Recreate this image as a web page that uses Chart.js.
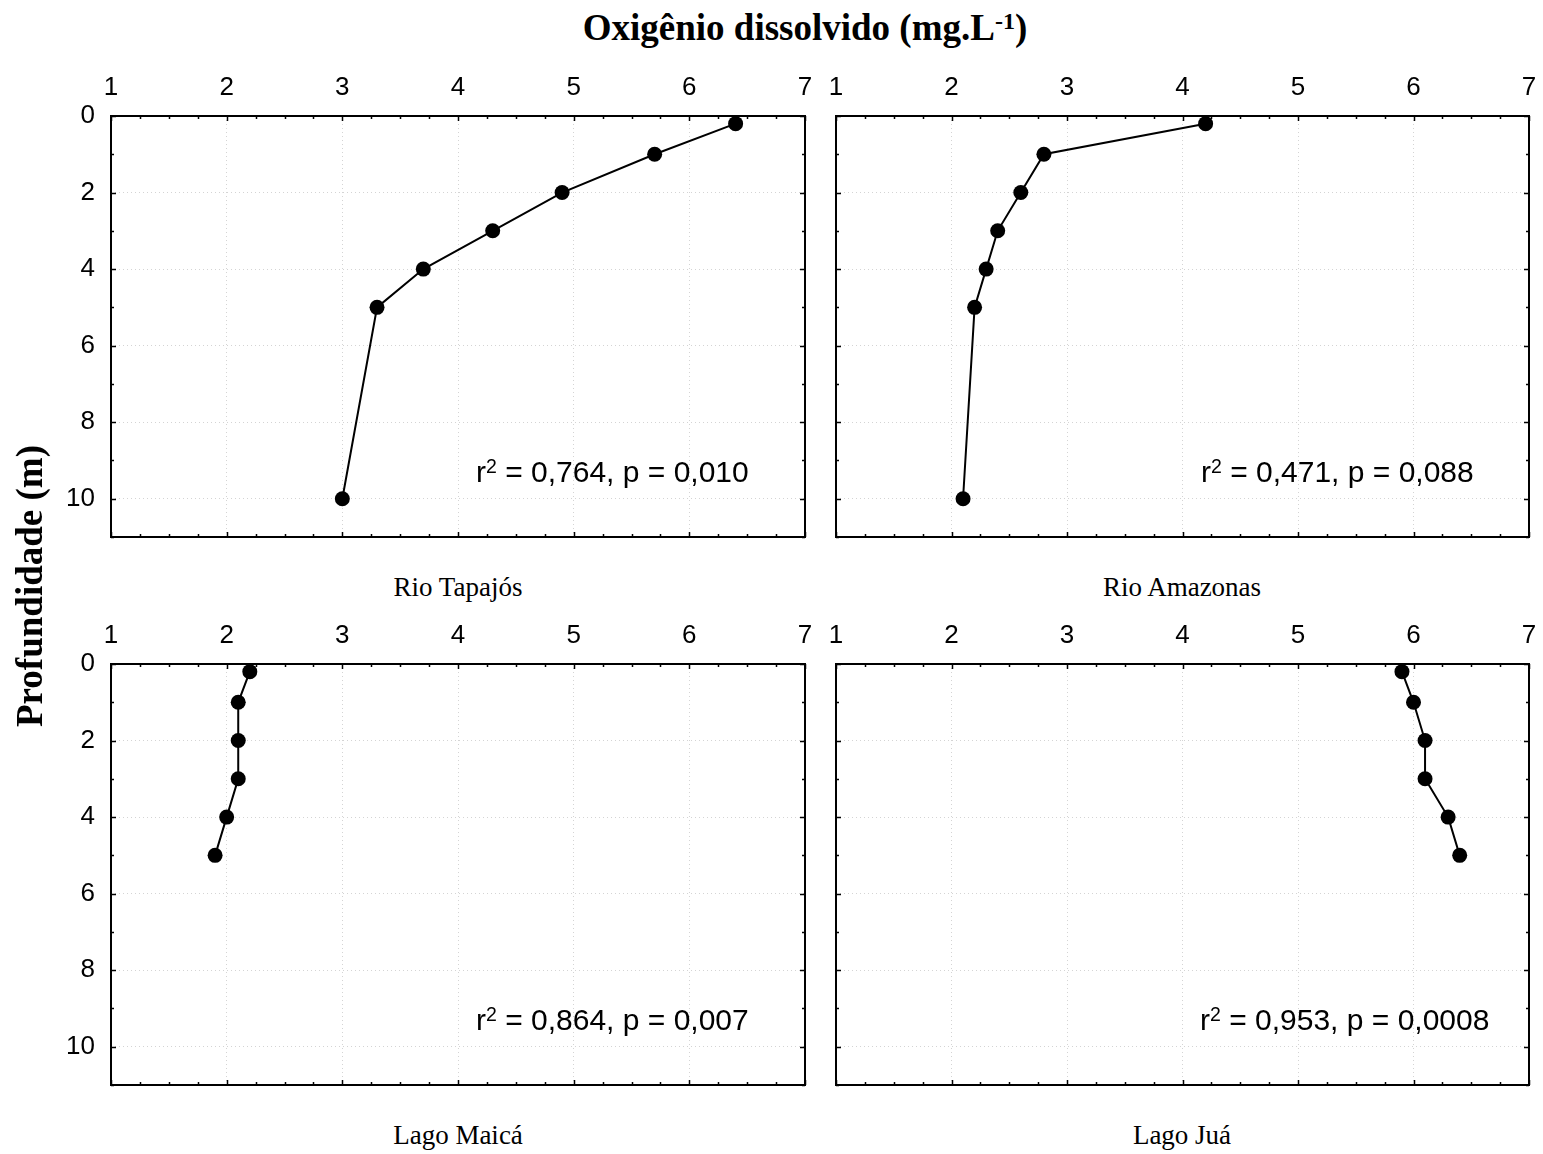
<!DOCTYPE html>
<html>
<head>
<meta charset="utf-8">
<title>Oxigênio dissolvido</title>
<script src="https://cdn.jsdelivr.net/npm/chart.js@4.4.1/dist/chart.umd.min.js"></script>
<style>
  body { margin: 0; background: #fff; }
  #fig { position: relative; width: 1543px; height: 1154px; overflow: hidden; }
  canvas { position: absolute; }
  .serif { position: absolute; font-family: "Liberation Serif", "Times New Roman", serif; color: #000; white-space: nowrap; }
  .title { font-weight: bold; font-size: 37px; line-height: 40px; }
  .name { font-size: 27px; line-height: 28px; transform: translateX(-50%); }
  .stat { position: absolute; font-family: "Liberation Sans", Arial, sans-serif; font-size: 30px; line-height: 30px; white-space: nowrap; color: #000; }
  .stat span, .title span { position: relative; top: -0.45em; font-size: 0.65em; }
</style>
</head>
<body>
<div id="fig">
  <canvas id="c0" width="770" height="490" style="left:50px;top:60px"></canvas>
  <canvas id="c1" width="768" height="490" style="left:775px;top:60px"></canvas>
  <canvas id="c2" width="770" height="490" style="left:50px;top:608px"></canvas>
  <canvas id="c3" width="768" height="490" style="left:775px;top:608px"></canvas>

  <div class="serif title" style="left:805px;top:8px;transform:translateX(-50%)">Oxigênio dissolvido (mg.L<span>-1</span>)</div>
  <div class="serif title" style="left:30px;top:586px;transform:translate(-50%,-50%) rotate(-90deg)">Profundidade (m)</div>

  <div class="serif name" style="left:458px;top:573px">Rio Tapajós</div>
  <div class="serif name" style="left:1182px;top:573px">Rio Amazonas</div>
  <div class="serif name" style="left:458px;top:1121px">Lago Maicá</div>
  <div class="serif name" style="left:1182px;top:1121px">Lago Juá</div>

  <div class="stat" style="left:476px;top:457px">r<span>2</span> = 0,764, p = 0,010</div>
  <div class="stat" style="left:1201px;top:457px">r<span>2</span> = 0,471, p = 0,088</div>
  <div class="stat" style="left:476px;top:1005px">r<span>2</span> = 0,864, p = 0,007</div>
  <div class="stat" style="left:1200px;top:1005px">r<span>2</span> = 0,953, p = 0,0008</div>
</div>

<script>
// profundidade (m) das coletas
var depthRio = [0.2, 1, 2, 3, 4, 5, 10];
var depthLago = [0.2, 1, 2, 3, 4, 5];

// oxigenio dissolvido (mg/L) por ponto
var odTapajos = [6.4, 5.7, 4.9, 4.3, 3.7, 3.3, 3.0];
var odAmazonas = [4.2, 2.8, 2.6, 2.4, 2.3, 2.2, 2.1];
var odMaica = [2.2, 2.1, 2.1, 2.1, 2.0, 1.9];
var odJua = [5.9, 6.0, 6.1, 6.1, 6.3, 6.4];

// eixos
var xTicks = [1, 2, 3, 4, 5, 6, 7];
var yTicks = [0, 2, 4, 6, 8, 10];
var xMin = 1, xMax = 7, yMin = 0, yMax = 11;

var tickFont = { family: 'Liberation Sans, Arial, sans-serif', size: 26 };

function pairs(xs, ys) {
    var out = [];
    for (var i = 0; i < xs.length; i++) {
        out.push({ x: xs[i], y: ys[i] });
    }
    return out;
}

// moldura + marcas para dentro nos quatro lados
var framePlugin = {
    id: 'frame',
    afterDraw: function(chart) {
        var ctx = chart.ctx, a = chart.chartArea;
        var sx = chart.scales.x, sy = chart.scales.y;
        ctx.save();
        ctx.strokeStyle = '#000';
        ctx.lineWidth = 1.5;
        ctx.beginPath();
        var v, p, len;
        for (v = xMin; v <= xMax + 1e-9; v += 0.25) {
            p = Math.round(sx.getPixelForValue(v)) + 0.5;
            len = (Math.abs(v - Math.round(v)) < 1e-9) ? 5 : 3;
            ctx.moveTo(p, a.top); ctx.lineTo(p, a.top + len);
            ctx.moveTo(p, a.bottom); ctx.lineTo(p, a.bottom - len);
        }
        for (v = yMin; v <= yMax; v += 1) {
            p = Math.round(sy.getPixelForValue(v)) + 0.5;
            len = (v % 2 === 0) ? 5 : 3;
            ctx.moveTo(a.left, p); ctx.lineTo(a.left + len, p);
            ctx.moveTo(a.right, p); ctx.lineTo(a.right - len, p);
        }
        ctx.stroke();
        ctx.lineWidth = 2;
        ctx.strokeRect(a.left, a.top, a.right - a.left, a.bottom - a.top);
        ctx.restore();
    }
};

function makePanel(id, xs, ys, padRight, showY) {
    var ctx = document.getElementById(id);
    return new Chart(ctx, {
        type: 'scatter',
        data: {
            datasets: [{
                data: pairs(xs, ys),
                showLine: true,
                borderColor: '#000',
                borderWidth: 2,
                pointRadius: 7.5,
                pointBackgroundColor: '#000',
                pointBorderWidth: 0,
                clip: false
            }]
        },
        options: {
            responsive: false,
            animation: false,
            events: [],
            layout: { padding: { left: 0, top: 0, right: padRight, bottom: 13 } },
            plugins: { legend: { display: false }, tooltip: { enabled: false } },
            scales: {
                x: {
                    type: 'linear',
                    position: 'top',
                    min: xMin,
                    max: xMax,
                    afterBuildTicks: function(s) { s.ticks = xTicks.map(function(t) { return { value: t }; }); },
                    afterFit: function(s) { s.height = 56; s.paddingLeft = 0; s.paddingRight = 0; },
                    ticks: { color: '#000', font: tickFont, padding: 13, maxRotation: 0 },
                    grid: { color: '#d4d4d4', lineWidth: 1, drawTicks: false },
                    border: { display: false, dash: [1, 3] }
                },
                y: {
                    type: 'linear',
                    reverse: true,
                    min: yMin,
                    max: yMax,
                    afterBuildTicks: function(s) { s.ticks = yTicks.map(function(t) { return { value: t }; }); },
                    afterFit: function(s) { s.width = 61; s.paddingTop = 0; s.paddingBottom = 0; },
                    ticks: { display: showY, color: '#000', font: tickFont, padding: 16 },
                    grid: { color: '#d4d4d4', lineWidth: 1, drawTicks: false },
                    border: { display: false, dash: [1, 3] }
                }
            }
        },
        plugins: [framePlugin]
    });
}

makePanel('c0', odTapajos, depthRio, 15, true);
makePanel('c1', odAmazonas, depthRio, 14, false);
makePanel('c2', odMaica, depthLago, 15, true);
makePanel('c3', odJua, depthLago, 14, false);
</script>
</body>
</html>
